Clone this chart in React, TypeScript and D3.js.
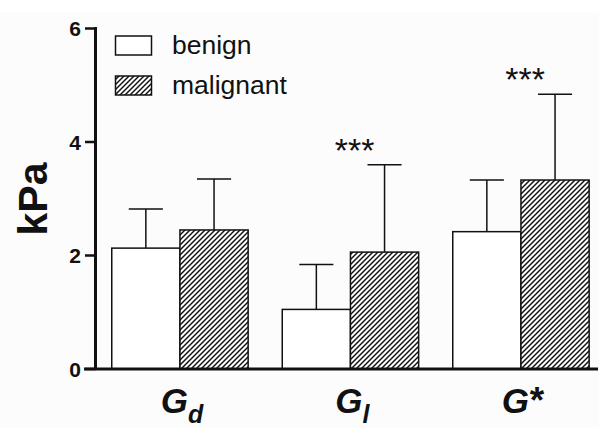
import React, {useRef, useEffect} from 'react';
import * as d3 from 'd3';

// values (kPa)
const groups = ['d', 'l', '*'];
const series = ['benign', 'malignant'];
const benign = [2.13, 1.05, 2.42];
const benignSd = [0.69, 0.79, 0.91];
const malignant = [2.45, 2.06, 3.33];
const malignantSd = [0.90, 1.54, 1.51];
const significance = ['', '***', '***'];
const yTicks = [0, 2, 4, 6];

const App = () => {
    const svgRef = useRef<SVGSVGElement>(null);
    const width = 599, height = 428;

    useEffect(() => {
        const svg = d3.select(svgRef.current);
        svg.selectAll('*').remove();

        const font = 'Liberation Sans, Arial, sans-serif';

        svg.append('rect').attr('x', 0).attr('y', 12).attr('width', width).attr('height', height - 12)
            .attr('fill', '#fcfcfc');

        // hatch pattern for the malignant bars
        const defs = svg.append('defs');
        const pat = defs.append('pattern')
            .attr('id', 'hatch')
            .attr('patternUnits', 'userSpaceOnUse')
            .attr('width', 5).attr('height', 5);
        pat.append('rect').attr('width', 5).attr('height', 5).attr('fill', '#fff');
        pat.append('path')
            .attr('d', 'M-1,1 l2,-2 M0,5 l5,-5 M4,6 l2,-2')
            .attr('stroke', '#111').attr('stroke-width', 1.45);

        const x0 = d3.scaleBand<string>()
            .domain(groups)
            .range([94.7, 606.2])
            .paddingInner(0.2)
            .paddingOuter(0.1);

        const x1 = d3.scaleBand<string>()
            .domain(series)
            .range([0, x0.bandwidth()]);

        const y = d3.scaleLinear().domain([0, 6]).range([369, 28.5]);

        const rows = groups.map((g, i) => ({
            group: g,
            bars: [
                {key: 'benign', value: benign[i], sd: benignSd[i]},
                {key: 'malignant', value: malignant[i], sd: malignantSd[i]}
            ],
            sig: significance[i]
        }));

        const g = svg.append('g');

        rows.forEach(row => {
            const gx = x0(row.group)!;
            row.bars.forEach(b => {
                const bx = gx + x1(b.key)!;
                const bw = x1.bandwidth();
                const cx = bx + bw / 2;
                // error bar (upper only)
                g.append('line')
                    .attr('x1', cx).attr('x2', cx)
                    .attr('y1', y(b.value)).attr('y2', y(b.value + b.sd))
                    .attr('stroke', '#111').attr('stroke-width', 1.5);
                g.append('line')
                    .attr('x1', cx - bw / 4).attr('x2', cx + bw / 4)
                    .attr('y1', y(b.value + b.sd)).attr('y2', y(b.value + b.sd))
                    .attr('stroke', '#111').attr('stroke-width', 1.5);
                g.append('rect')
                    .attr('x', bx).attr('y', y(b.value))
                    .attr('width', bw).attr('height', y(0) - y(b.value))
                    .attr('fill', b.key === 'benign' ? '#fff' : 'url(#hatch)')
                    .attr('stroke', '#111').attr('stroke-width', 1.5);
            });
            if (row.sig) {
                const m = row.bars[1];
                const cx = gx + x1('malignant')! + x1.bandwidth() / 2;
                g.append('text')
                    .attr('x', cx - 30)
                    .attr('y', y(m.value + m.sd) - 3)
                    .attr('text-anchor', 'middle')
                    .attr('font-family', font)
                    .attr('font-size', 34)
                    .attr('fill', '#111')
                    .text(row.sig);
            }
        });

        // y axis
        svg.append('line')
            .attr('x1', 95.5).attr('x2', 95.5)
            .attr('y1', y(6) - 1.5).attr('y2', y(0))
            .attr('stroke', '#111').attr('stroke-width', 3);
        yTicks.forEach(t => {
            svg.append('line')
                .attr('x1', 85).attr('x2', 95.5)
                .attr('y1', y(t)).attr('y2', y(t))
                .attr('stroke', '#111').attr('stroke-width', 2.5);
            svg.append('text')
                .attr('x', 81).attr('y', y(t) + 7.5)
                .attr('text-anchor', 'end')
                .attr('font-family', font)
                .attr('font-weight', 'bold')
                .attr('font-size', 21)
                .attr('fill', '#111')
                .text(t);
        });

        // x axis
        svg.append('line')
            .attr('x1', 84).attr('x2', 598)
            .attr('y1', y(0)).attr('y2', y(0))
            .attr('stroke', '#111').attr('stroke-width', 3);

        // x labels
        groups.forEach(grp => {
            const cx = x0(grp)! + x0.bandwidth() / 2;
            const t = svg.append('text')
                .attr('x', cx + 2).attr('y', 413)
                .attr('text-anchor', 'middle')
                .attr('font-family', font)
                .attr('font-weight', 'bold')
                .attr('font-style', 'italic')
                .attr('font-size', 35)
                .attr('fill', '#111');
            t.append('tspan').text('G');
            if (grp === '*') {
                t.append('tspan').attr('font-style', 'normal')
                    .attr('font-size', 37).attr('dx', 1).text('*');
            } else {
                t.append('tspan').attr('font-size', 25).attr('dy', 10).text(grp);
            }
        });

        // y label
        svg.append('text')
            .attr('transform', 'translate(47,199) rotate(-90)')
            .attr('text-anchor', 'middle')
            .attr('font-family', font)
            .attr('font-weight', 'bold')
            .attr('font-size', 41)
            .attr('fill', '#111')
            .text('kPa');

        // legend
        const legend = svg.append('g');
        series.forEach((s, i) => {
            const ly = 36 + i * 40;
            legend.append('rect')
                .attr('x', 115.5).attr('y', ly)
                .attr('width', 36).attr('height', 19)
                .attr('fill', s === 'benign' ? '#fff' : 'url(#hatch)')
                .attr('stroke', '#111').attr('stroke-width', 1.5);
            legend.append('text')
                .attr('x', 172).attr('y', ly + 18)
                .attr('font-family', font)
                .attr('font-size', 26.5)
                .attr('fill', '#111')
                .text(s);
        });
    }, []);

    return (
        <svg ref={svgRef} width={width} height={height}
             style={{position: 'absolute', left: 0, top: 0, background: '#fff'}}/>
    );
};

export default App;
